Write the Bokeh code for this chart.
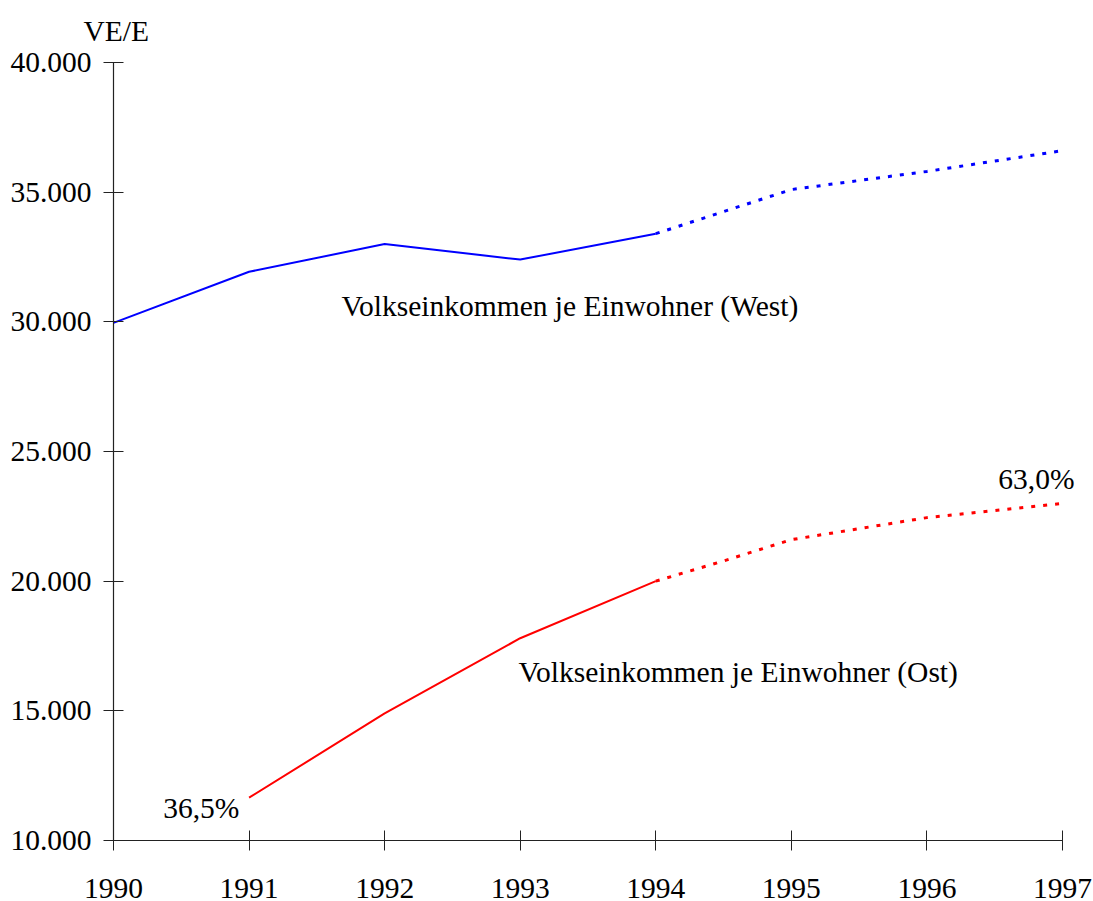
from bokeh.plotting import figure
from bokeh.models import Label, Range1d, FixedTicker, CustomJSTickFormatter
from bokeh.embed import file_html
from bokeh.resources import INLINE

# Data
years_hist = [1990, 1991, 1992, 1993, 1994]
west_hist = [29960, 31930, 33000, 32400, 33400]
years_ost_hist = [1991, 1992, 1993, 1994]
ost_hist = [11650, 14900, 17800, 20000]
years_fc = [1994, 1994.5, 1995, 1996, 1997]
west_fc = [33400, 34250, 35100, 35800, 36600]
ost_fc = [20000, 20780, 21600, 22450, 23000]
x_ticks = [1990, 1991, 1992, 1993, 1994, 1995, 1996, 1997]
y_ticks = [10000, 15000, 20000, 25000, 30000, 35000, 40000]

FONT = "Liberation Serif"
FS = "29.5px"

p = figure(width=1093, height=901, output_backend="svg", toolbar_location=None,
           x_range=Range1d(1990, 1997.2287), y_range=Range1d(10000, 40000),
           min_border_left=113, min_border_top=62, min_border_right=0, min_border_bottom=61)
p.outline_line_color = None
p.xgrid.grid_line_color = None
p.ygrid.grid_line_color = None

p.title.text = "VE/E"
p.title.text_font = FONT
p.title.text_font_size = FS
p.title.text_font_style = "normal"
p.title.text_color = "black"
p.title.align = "left"
p.title.offset = -30
p.title.standoff = 28
p.title.vertical_align = "top"
p.title.text_line_height = 0.7

p.xaxis.ticker = FixedTicker(ticks=x_ticks)
p.yaxis.ticker = FixedTicker(ticks=y_ticks)
p.xaxis.bounds = (1990, 1997)
p.yaxis.formatter = CustomJSTickFormatter(code="""
const s = Math.round(tick).toString();
return s.slice(0, s.length-3) + '.' + s.slice(s.length-3);
""")
for ax in (p.xaxis[0], p.yaxis[0]):
    ax.major_tick_in = 10
    ax.major_tick_out = 10
    ax.minor_tick_line_color = None
    ax.major_label_text_font = FONT
    ax.major_label_text_font_size = FS
    ax.major_label_text_color = "black"
    ax.axis_line_color = "#222222"
    ax.major_tick_line_color = "#222222"
    ax.axis_line_width = 1.2
p.xaxis.major_label_standoff = 28
p.yaxis.major_label_standoff = 12

p.line(years_hist, west_hist, line_color="#0000FF", line_width=2)
p.line(years_fc, west_fc, line_color="#0000FF", line_width=3, line_dash="4 8")
p.line(years_ost_hist, ost_hist, line_color="#FF0000", line_width=2)
p.line(years_fc, ost_fc, line_color="#FF0000", line_width=3, line_dash="4 8")

def lab(x, y, text, align="left", baseline="alphabetic"):
    p.add_layout(Label(x=x, y=y, text=text, text_font=FONT, text_font_size=FS,
                       text_align=align, text_baseline=baseline, text_color="black"))

lab(1991.682, 30620, "Volkseinkommen je Einwohner (West)")
lab(1992.987, 16510, "Volkseinkommen je Einwohner (Ost)")
lab(1990.929, 11270, "36,5%", align="right")
lab(1996.808, 23950, "63,0%", align="center")

open("out.html", "w").write(file_html(p, INLINE))
